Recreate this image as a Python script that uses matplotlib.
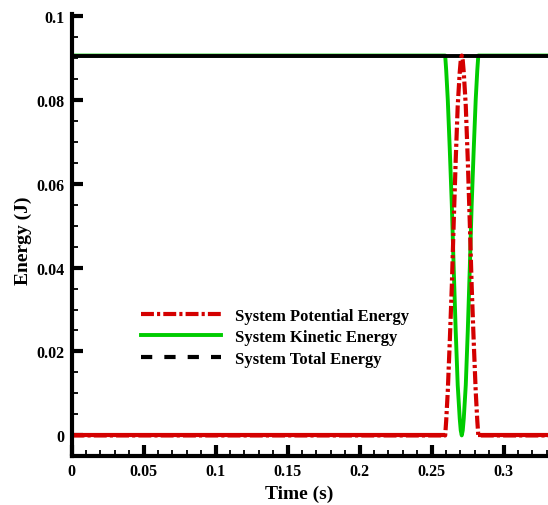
import matplotlib
matplotlib.use("Agg")
import matplotlib.pyplot as plt
from matplotlib.lines import Line2D
from matplotlib.ticker import MultipleLocator, FixedLocator

plt.rcParams["font.family"] = ["Liberation Serif", "DejaVu Serif"]
plt.rcParams["font.weight"] = "bold"

# values
time_s = [0.0, 0.2595, 0.2602, 0.2613, 0.2627, 0.2641, 0.2654, 0.2668, 0.2682,
          0.2696, 0.2703, 0.2710, 0.2717, 0.2724, 0.2738, 0.2752, 0.2766,
          0.2779, 0.2793, 0.2807, 0.2818, 0.2825, 0.3310]
potential = [0.0, 0.0, 0.0035, 0.0105, 0.0225, 0.0355, 0.0505, 0.0655, 0.0785,
             0.0865, 0.0893, 0.0905, 0.0893, 0.0865, 0.0785, 0.0655, 0.0505,
             0.0355, 0.0225, 0.0105, 0.0035, 0.0, 0.0]
kinetic = [0.0905, 0.0905, 0.087, 0.080, 0.068, 0.055, 0.040, 0.025, 0.012,
           0.004, 0.0012, 0.0, 0.0012, 0.004, 0.012, 0.025, 0.040, 0.055,
           0.068, 0.080, 0.087, 0.0905, 0.0905]
total_time = [0.0, 0.3310]
total = [0.0905, 0.0905]

x_ticks = [0.0, 0.05, 0.1, 0.15, 0.2, 0.25, 0.3]
x_ticklabels = ["0", "0.05", "0.1", "0.15", "0.2", "0.25", "0.3"]
y_ticks = [0.0, 0.02, 0.04, 0.06, 0.08, 0.1]
y_ticklabels = ["0", "0.02", "0.04", "0.06", "0.08", "0.1"]

W, H = 548, 506
fig = plt.figure(figsize=(W / 100, H / 100), dpi=100)
ax = fig.add_axes([71.5 / W, 49 / H, 476.5 / W, 442 / H])

red = "#d40000"
green = "#00cc00"
dashdot = (0, (3.1, 0.75, 0.75, 0.75))

pe_line, = ax.plot(time_s, potential, color=red, lw=3, ls=dashdot, zorder=4,
                   label="System Potential Energy")
# the flat parts show as a solid line in the original (dense data points)
ax.plot(time_s[:2], potential[:2], color=red, lw=3, zorder=4.5,
        solid_capstyle="butt")
ax.plot(time_s[-2:], potential[-2:], color=red, lw=3, zorder=4.5,
        solid_capstyle="butt")
ke_line, = ax.plot(time_s, kinetic, color=green, lw=2.8, zorder=2,
                   label="System Kinetic Energy")
ax.plot(total_time, total, color="black", lw=2.8, zorder=3)
te_handle = Line2D([], [], color="black", lw=3, ls=(0, (2.7, 2.9)),
                   label="System Total Energy")

ax.set_xlim(0, 0.3309)
ax.set_ylim(-0.0049, 0.1004)

ax.xaxis.set_major_locator(FixedLocator(x_ticks))
ax.set_xticklabels(x_ticklabels)
ax.yaxis.set_major_locator(FixedLocator(y_ticks))
ax.set_yticklabels(y_ticklabels)
ax.xaxis.set_minor_locator(MultipleLocator(0.01))
ax.yaxis.set_minor_locator(MultipleLocator(0.005))

for s in ["top", "right"]:
    ax.spines[s].set_visible(False)
for s in ["left", "bottom"]:
    ax.spines[s].set_linewidth(3)
    ax.spines[s].set_zorder(5)

ax.tick_params(which="major", direction="in", length=8, width=3,
               labelsize=11.5, pad=5, top=False, right=False)
ax.tick_params(which="minor", direction="in", length=4, width=1.3,
               top=False, right=False)
for lab in ax.get_xticklabels() + ax.get_yticklabels():
    lab.set_fontweight("bold")

ax.set_xlabel("Time (s)", fontsize=14, fontweight="bold")
ax.xaxis.set_label_coords((299 - 71.5) / 476.5, -0.064)
ax.set_ylabel("Energy (J)", fontsize=14, fontweight="bold")
ax.yaxis.set_label_coords(-0.083, 0.49)

ax.legend(handles=[pe_line, ke_line, te_handle], loc="center left",
          bbox_to_anchor=(0.145, 0.269), frameon=False,
          prop={"weight": "bold", "size": 12}, handlelength=4.8,
          handletextpad=0.84, labelspacing=0.33, borderpad=0, borderaxespad=0)

fig.savefig("out.png", dpi=100)
